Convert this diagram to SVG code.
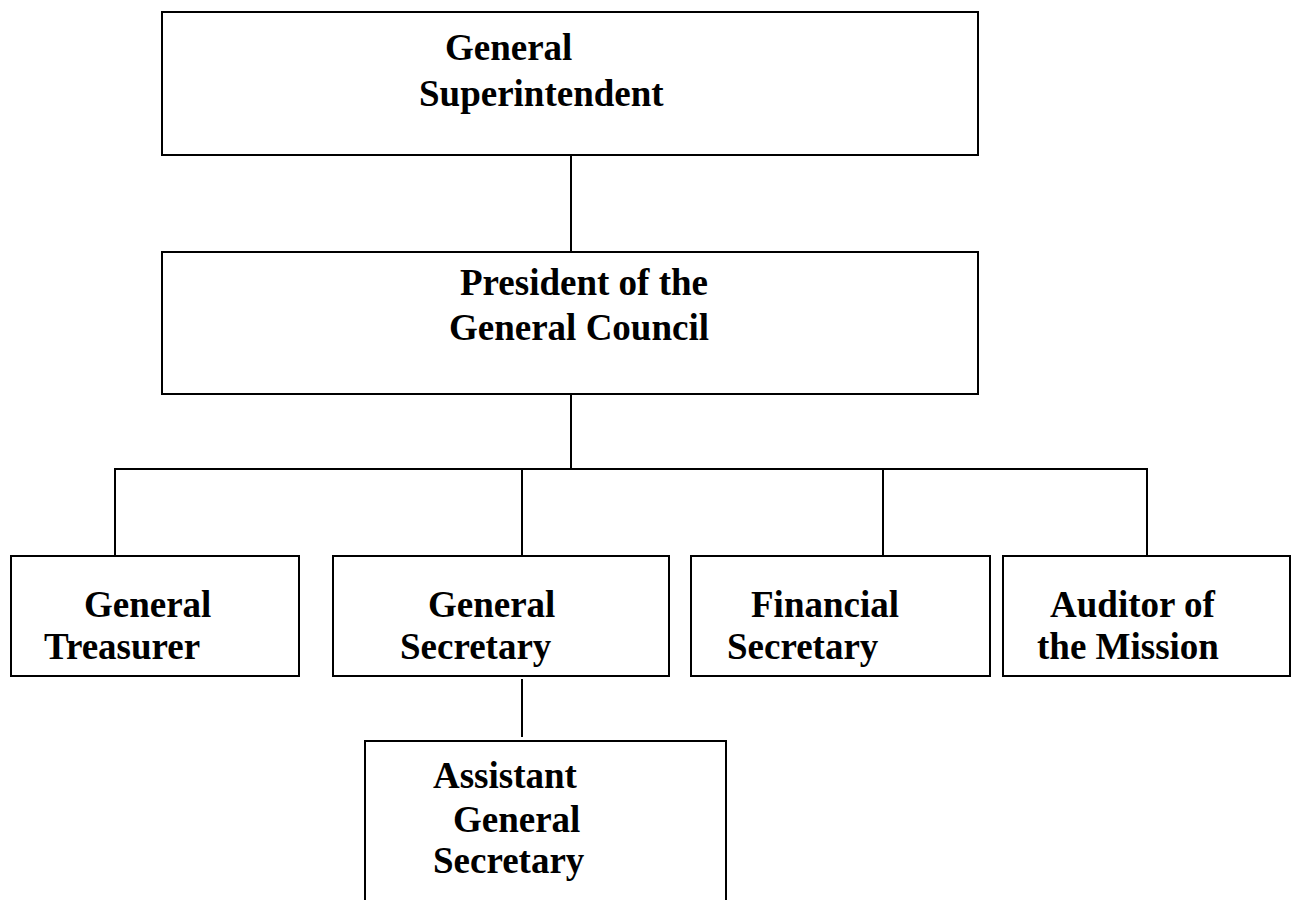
<svg xmlns="http://www.w3.org/2000/svg" width="1306" height="900" viewBox="0 0 1306 900">
<style>
rect{fill:#fff;stroke:#000;stroke-width:2}
.c line{stroke:#000;stroke-width:2}
text{font-family:"Liberation Serif","Times New Roman",serif;font-weight:bold;font-size:37px;fill:#000}
</style>
<rect x="0" y="0" width="1306" height="900" style="stroke:none"/>
<g class="c" id="connectors">
<line x1="571" y1="155" x2="571" y2="252"/>
<line x1="571" y1="394" x2="571" y2="469"/>
<line x1="114" y1="469" x2="1148" y2="469"/>
<line x1="115" y1="469" x2="115" y2="556"/>
<line x1="522" y1="469" x2="522" y2="556"/>
<line x1="883" y1="469" x2="883" y2="556"/>
<line x1="1147" y1="469" x2="1147" y2="556"/>
<line x1="522" y1="679" x2="522" y2="737"/>
</g>
<g id="general-superintendent">
<rect x="162" y="12" width="816" height="143"/>
<text x="445" y="60">General</text>
<text x="419" y="106">Superintendent</text>
</g>
<g id="president">
<rect x="162" y="252" width="816" height="142"/>
<text x="460" y="295">President of the</text>
<text x="449" y="340">General Council</text>
</g>
<g id="general-treasurer">
<rect x="11" y="556" width="288" height="120"/>
<text x="84" y="617">General</text>
<text x="44" y="659">Treasurer</text>
</g>
<g id="general-secretary">
<rect x="333" y="556" width="336" height="120"/>
<text x="428" y="617">General</text>
<text x="400" y="659">Secretary</text>
</g>
<g id="financial-secretary">
<rect x="691" y="556" width="299" height="120"/>
<text x="751" y="617">Financial</text>
<text x="727" y="659">Secretary</text>
</g>
<g id="auditor">
<rect x="1003" y="556" width="287" height="120"/>
<text x="1050" y="617">Auditor of</text>
<text x="1037" y="659">the Mission</text>
</g>
<g id="assistant-general-secretary">
<rect x="365" y="741" width="361" height="175"/>
<text x="433" y="788">Assistant</text>
<text x="453" y="832">General</text>
<text x="433" y="873">Secretary</text>
</g>
</svg>
